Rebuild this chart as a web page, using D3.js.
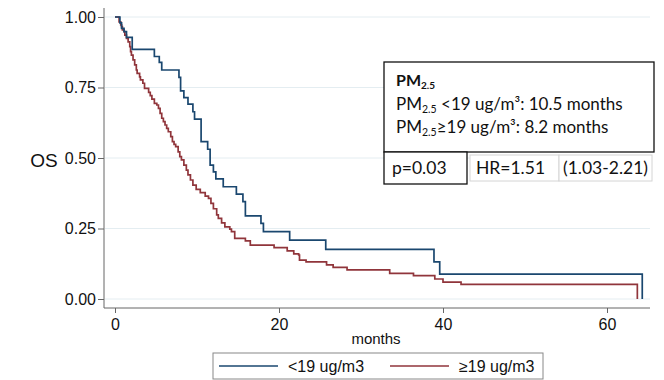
<!DOCTYPE html>
<html>
<head>
<meta charset="utf-8">
<script src="https://cdn.jsdelivr.net/npm/d3@7"></script>
<style>
    body { margin: 0; background: #fff; }
    svg { display: block; }
</style>
</head>
<body>
<svg></svg>
<script>
// survival steps: PM2.5 < 19 ug/m3
const lowTimes = [0, 0.6, 0.8, 1.1, 1.4, 2.1, 4.8, 5.4, 5.7, 7.8, 8.0, 8.4, 8.9, 9.5, 9.7, 10.5, 11.3, 11.6, 12.0, 12.3, 13.2, 14.8, 15.6, 15.9, 17.8, 18.1, 21.3, 25.7, 38.9, 39.6, 64.3];
const lowSurvival = [1, 0.979, 0.96, 0.948, 0.928, 0.885, 0.86, 0.839, 0.812, 0.786, 0.738, 0.714, 0.691, 0.664, 0.638, 0.558, 0.531, 0.475, 0.451, 0.426, 0.398, 0.372, 0.345, 0.295, 0.268, 0.239, 0.209, 0.176, 0.132, 0.088, 0];

// PM2.5 >= 19 ug/m3
const highTimes = [0, 0.5, 0.7, 0.8, 0.9, 1.1, 1.2, 1.4, 1.6, 1.8, 1.9, 2.0, 2.2, 2.4, 2.6, 2.7, 3.0, 3.1, 3.4, 3.6, 4.1, 4.3, 4.5, 4.8, 5.1, 5.3, 5.5, 5.7, 5.9, 6.1, 6.3, 6.5, 6.8, 7.0, 7.2, 7.4, 7.7, 7.9, 8.1, 8.4, 8.7, 8.9, 9.2, 9.5, 9.9, 10.4, 11.0, 11.4, 11.7, 12.0, 12.4, 12.6, 13.0, 13.4, 14.0, 14.2, 14.6, 15.9, 16.5, 19.4, 21.0, 21.8, 22.4, 22.5, 23.3, 25.8, 26.6, 28.3, 33.5, 36.4, 39.0, 40.0, 42.2, 63.7];
const highSurvival = [1, 0.983, 0.972, 0.966, 0.954, 0.948, 0.936, 0.924, 0.912, 0.895, 0.877, 0.865, 0.848, 0.83, 0.812, 0.8, 0.788, 0.777, 0.765, 0.747, 0.733, 0.721, 0.709, 0.694, 0.688, 0.676, 0.658, 0.641, 0.629, 0.617, 0.605, 0.593, 0.576, 0.558, 0.548, 0.54, 0.522, 0.505, 0.493, 0.475, 0.457, 0.44, 0.422, 0.404, 0.389, 0.377, 0.365, 0.357, 0.339, 0.32, 0.298, 0.286, 0.27, 0.256, 0.248, 0.239, 0.215, 0.206, 0.191, 0.182, 0.171, 0.16, 0.156, 0.138, 0.132, 0.121, 0.112, 0.103, 0.091, 0.083, 0.071, 0.06, 0.052, 0];

const xTicks = [0, 20, 40, 60];
const yTicks = [0, 0.25, 0.5, 0.75, 1];
const legendLabels = ["<19 ug/m3", "\u226519 ug/m3"];
const seriesColors = ["#1a476f", "#90353b"];

const width = 664;
const height = 380;
const axisFont = "'Liberation Sans', Arial, sans-serif";
const boxFont = "Lato, 'Open Sans', sans-serif";

const svg = d3.select("svg").attr("width", width).attr("height", height);

// scales
const xScale = d3.scaleLinear().domain([0, 60]).range([115, 607]);
const yScale = d3.scaleLinear().domain([0, 1]).range([299, 17]);

const plotLeft = 104;
const plotRight = 650;
const plotTop = 8;
const plotBottom = 308;

// gridlines
svg.append("g")
    .selectAll("line")
    .data(yTicks)
    .join("line")
    .attr("x1", plotLeft + 1)
    .attr("x2", plotRight)
    .attr("y1", (d) => yScale(d))
    .attr("y2", (d) => yScale(d))
    .attr("stroke", "#e4edf1")
    .attr("stroke-width", 1);

// y axis
const yAxis = svg.append("g")
    .attr("transform", `translate(${plotLeft}, 0)`)
    .call(d3.axisLeft(yScale).tickValues(yTicks).tickFormat(d3.format(".2f")).tickSize(6).tickPadding(2).tickSizeOuter(0));
yAxis.select(".domain").remove();

// x axis
const xAxis = svg.append("g")
    .attr("transform", `translate(0, ${plotBottom})`)
    .call(d3.axisBottom(xScale).tickValues(xTicks).tickSize(5).tickPadding(6).tickSizeOuter(0));
xAxis.select(".domain").remove();

[yAxis, xAxis].forEach((axis) => {
    axis.selectAll("line").attr("stroke", "#666");
    axis.selectAll("text")
        .attr("fill", "#111")
        .style("font-family", axisFont)
        .style("font-size", "16px");
});

// axis lines
svg.append("line")
    .attr("x1", plotLeft).attr("x2", plotLeft)
    .attr("y1", plotTop).attr("y2", plotBottom)
    .attr("stroke", "#666");
svg.append("line")
    .attr("x1", plotLeft).attr("x2", plotRight)
    .attr("y1", plotBottom).attr("y2", plotBottom)
    .attr("stroke", "#666");

// axis titles
svg.append("text")
    .attr("x", 44).attr("y", 167)
    .attr("text-anchor", "middle")
    .style("font-family", axisFont)
    .style("font-size", "19px")
    .attr("fill", "#111")
    .text("OS");
svg.append("text")
    .attr("x", 376).attr("y", 344)
    .attr("text-anchor", "middle")
    .style("font-family", axisFont)
    .style("font-size", "15px")
    .attr("fill", "#111")
    .text("months");

// survival curves
const curve = d3.line()
    .x((d) => xScale(d[0]))
    .y((d) => yScale(d[1]))
    .curve(d3.curveStepAfter);

const series = [
    d3.zip(lowTimes, lowSurvival),
    d3.zip(highTimes, highSurvival),
];

svg.append("g")
    .selectAll("path")
    .data([series[1], series[0]])
    .join("path")
    .attr("d", (d) => curve(d))
    .attr("fill", "none")
    .attr("stroke", (d, i) => (i === 0 ? seriesColors[1] : seriesColors[0]))
    .attr("stroke-width", 1.7);

// inset text box
const box = svg.append("g").style("font-family", boxFont).attr("fill", "#111");

box.append("rect")
    .attr("x", 384).attr("y", 62).attr("width", 270).attr("height", 90)
    .attr("fill", "#fff").attr("stroke", "#111").attr("stroke-width", 1.3);

const title = box.append("text").attr("x", 396).attr("y", 86)
    .style("font-size", "16px").style("font-weight", "bold");
title.append("tspan").text("PM");
title.append("tspan").attr("dy", 3).style("font-size", "10px").text("2.5");

const boxLines = [
    ["\u00a0<19 ug/m\u00b3: 10.5 months", 110],
    ["\u226519 ug/m\u00b3: 8.2 months", 133],
];
boxLines.forEach(([rest, yPos]) => {
    const t = box.append("text").attr("x", 396).attr("y", yPos).style("font-size", "17px");
    t.append("tspan").text("PM");
    t.append("tspan").attr("dy", 3).style("font-size", "10.5px").text("2.5");
    t.append("tspan").attr("dy", -3).text(rest);
});

// p value and hazard ratio cells
box.append("rect")
    .attr("x", 384).attr("y", 152).attr("width", 83).attr("height", 32)
    .attr("fill", "#fff").attr("stroke", "#111").attr("stroke-width", 1.3);
box.append("text").attr("x", 392).attr("y", 174).style("font-size", "17.5px").text("p=0.03");

box.append("rect")
    .attr("x", 470).attr("y", 155).attr("width", 89).attr("height", 26)
    .attr("fill", "#fff").attr("stroke", "#d4d4d4");
box.append("rect")
    .attr("x", 559).attr("y", 155).attr("width", 93).attr("height", 26)
    .attr("fill", "#fff").attr("stroke", "#d4d4d4");
box.append("text").attr("x", 476).attr("y", 174).style("font-size", "17.5px").text("HR=1.51");
box.append("text").attr("x", 563).attr("y", 174).style("font-size", "17.5px").text("(1.03-2.21)");

// legend
const legend = svg.append("g").style("font-family", axisFont).style("font-size", "16px");
legend.append("rect")
    .attr("x", 213).attr("y", 353).attr("width", 330).attr("height", 26)
    .attr("fill", "#fff").attr("stroke", "#888");

const legendX = [219, 390];
legendLabels.forEach((label, i) => {
    legend.append("line")
        .attr("x1", legendX[i]).attr("x2", legendX[i] + 59)
        .attr("y1", 366).attr("y2", 366)
        .attr("stroke", seriesColors[i]).attr("stroke-width", 1.7);
    legend.append("text")
        .attr("x", legendX[i] + 69).attr("y", 372)
        .attr("fill", "#111")
        .text(label);
});
</script>
</body>
</html>
